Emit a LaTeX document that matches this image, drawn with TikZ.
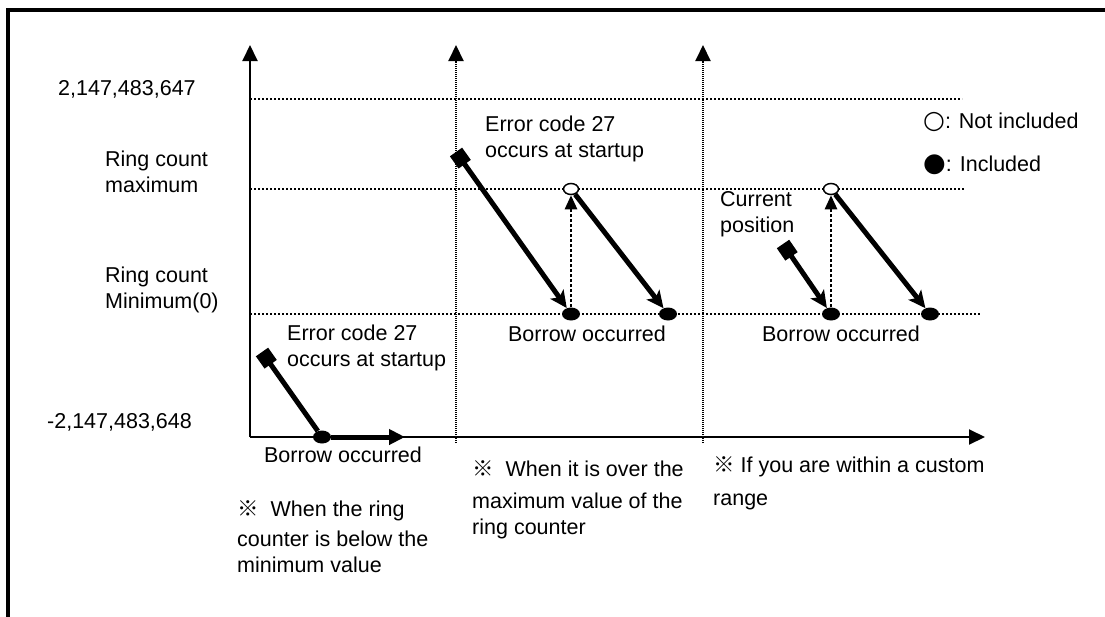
\documentclass[tikz,border=0pt]{standalone}
\usepackage{fontspec}
\setmainfont{Liberation Sans}
\newfontfamily\cjk{Noto Sans CJK SC}
\newfontfamily\symf{DejaVu Sans}
\usepackage{tikz}
\usetikzlibrary{positioning,arrows.meta,shapes.geometric}
\newcommand\kome{{\cjk ※}}

\begin{document}
\begin{tikzpicture}[
  x=1pt, y=-1pt,
  font=\fontsize{21.5}{26}\selectfont,
  lbl/.style={inner sep=0pt,align=left,anchor=west},
  tag/.style={inner sep=0pt},
  axis/.style={line width=2pt,-{Triangle[length=16pt,width=15pt]}},
  divider/.style={axis,dash pattern=on 1pt off 1pt},
  guide/.style={line width=1.5pt,dash pattern=on 2pt off 2pt},
  lead/.style={line width=5pt,{Square[length=15pt,width=15pt]}-},
  trace/.style={line width=5pt,{Square[length=15pt,width=15pt]}-{Stealth[length=17pt,width=16pt,inset=4pt]}},
  slide/.style={line width=5pt,-{Stealth[length=17pt,width=16pt,inset=4pt]}},
  run/.style={line width=5pt,-{Triangle[length=16pt,width=15pt]}},
  jump/.style={line width=2.5pt,dash pattern=on 3pt off 2pt,-{Triangle[length=14pt,width=12pt]}},
  dot/.style={ellipse,fill=black,minimum width=18pt,minimum height=13pt,inner sep=0pt},
  hollow/.style={ellipse,draw,line width=1.5pt,fill=white,minimum width=15pt,minimum height=11pt,inner sep=0pt}
]
\useasboundingbox (0,0) rectangle (1105,616);
% frame
\draw[line width=4pt] (8,640) -- (8,10) -- (1130,10);

% guides
\draw[guide] (250,99) -- (962,99);
\draw[guide] (250,189) -- (965,189);
\draw[guide] (250,314) -- (980,314);

% axes
\coordinate (O) at (250,437);
\coordinate (ytop) at (250,45);
\coordinate (xend) at (985,437);
\coordinate (m0) at (456,443);
\coordinate (mtop) at (456,45);
\coordinate (r0) at (703,443);
\coordinate (rtop) at (703,45);
\draw[axis] (O) -- (ytop);
\draw[axis] (O) -- (xend);
\draw[divider] (m0) -- (mtop);
\draw[divider] (r0) -- (rtop);

% value labels
\node[lbl] (hi) at (58,89) {2,147,483,647};
\node[lbl] (ringmax) at (105,172) {Ring count\\maximum};
\node[lbl] (ringmin) at (105,290) {Ring count\\Minimum(0)};
\node[lbl] (lo) at (47,422) {-2,147,483,648};

% below the minimum
\coordinate (s1) at (262,352);
\node[dot] (d1) at (322,437) {};
\coordinate (e1) at (405,437);
\draw[lead] (s1) -- (d1);
\draw[run] (d1) -- (e1);
\node[lbl] (err1) at (287,348) {Error code 27\\occurs at startup};
\node[tag] (borrow1) at (343,455) {Borrow occurred};
\node[lbl] (note1) at (237,537) {\kome~ When the ring\\[4pt]counter is below the\\minimum value};

% over the maximum
\coordinate (s2) at (456,152);
\node[dot] (d2) at (571,314) {};
\node[hollow] (o2) at (571,189) {};
\node[dot] (d3) at (668,314) {};
\draw[trace] (s2) -- (d2);
\draw[jump] (d2) -- (o2);
\draw[slide] (o2) -- (d3);
\node[lbl] (err2) at (485,139) {Error code 27\\occurs at startup};
\node[tag] (borrow2) at (587,334) {Borrow occurred};
\node[lbl] (note2) at (472,500) {\kome~ When it is over the\\[6pt]maximum value of the\\ring counter};

% custom range
\coordinate (s3) at (783,244);
\node[dot] (d4) at (831,314) {};
\node[hollow] (o4) at (831,189) {};
\node[dot] (d5) at (930,314) {};
\draw[trace] (s3) -- (d4);
\draw[jump] (d4) -- (o4);
\draw[slide] (o4) -- (d5);
\node[lbl] (curpos) at (720,214) {Current\\position};
\node[tag] (borrow3) at (841,334) {Borrow occurred};
\node[lbl] (note3) at (713,483) {\kome\ If you are within a custom\\[7pt]range};

% legend
\node[lbl] (leg1) at (923,122) {{\symf\fontsize{25}{26}\selectfont ○}: Not included};
\node[lbl] (leg2) at (923,165) {{\symf\fontsize{26}{26}\selectfont ●}: Included};
\end{tikzpicture}
\end{document}
